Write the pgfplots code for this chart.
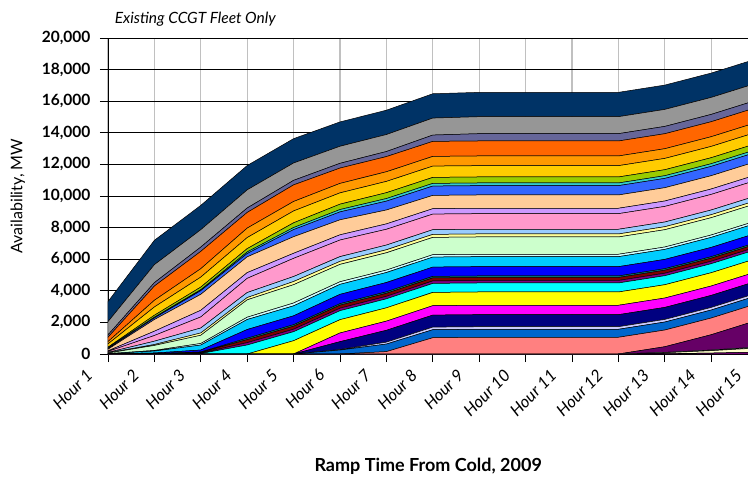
\documentclass[border=0pt]{standalone}
\usepackage{pgfplots}
\usepackage{pgfplotstable}
\pgfplotsset{compat=1.18}
\usepackage{fontspec}
\setmainfont{Lato}
\definecolor{cL1}{HTML}{003366}
\definecolor{cL2}{HTML}{969696}
\definecolor{cL3}{HTML}{666699}
\definecolor{cL4}{HTML}{FF6600}
\definecolor{cL5}{HTML}{FF9900}
\definecolor{cL6}{HTML}{FFCC00}
\definecolor{cL7}{HTML}{99CC00}
\definecolor{cL8}{HTML}{33CCCC}
\definecolor{cL9}{HTML}{3366FF}
\definecolor{cL10}{HTML}{FFCC99}
\definecolor{cL11}{HTML}{CC99FF}
\definecolor{cL12}{HTML}{FF99CC}
\definecolor{cL13}{HTML}{99CCFF}
\definecolor{cL14}{HTML}{FFFF99}
\definecolor{cL15}{HTML}{CCFFCC}
\definecolor{cL16}{HTML}{CCFFFF}
\definecolor{cL17}{HTML}{00CCFF}
\definecolor{cL18}{HTML}{0000FF}
\definecolor{cL19}{HTML}{008080}
\definecolor{cL20}{HTML}{800000}
\definecolor{cL21}{HTML}{800080}
\definecolor{cL22}{HTML}{00FFFF}
\definecolor{cL23}{HTML}{FFFF00}
\definecolor{cL24}{HTML}{FF00FF}
\definecolor{cL25}{HTML}{000080}
\definecolor{cL26}{HTML}{CCCCFF}
\definecolor{cL27}{HTML}{0066CC}
\definecolor{cL28}{HTML}{FF8080}
\definecolor{cN4}{HTML}{660066}
\definecolor{cN3}{HTML}{CCFFFF}
\definecolor{cN2}{HTML}{FFFFCC}
\definecolor{cN1}{HTML}{800080}
\definecolor{vgrid}{HTML}{C0C0C0}

\pgfplotstableread{
h  N1  N2  N3  N4   L28  L27 L26 L25 L24 L23 L22 L21 L20 L19 L18 L17 L16 L15  L14 L13 L12  L11 L10  L9  L8  L7  L6  L5  L4   L3  L2   L1
1  0   0   0   0    0    0   0   0   0   0   0   0   0   0   5   10  5   40   10  30  60   40  100  60  20  50  209 146 278  146 840  1270
2  0   0   0   0    0    0   0   0   0   0   0   5   10  10  40  120 40  316  60  209 360  272 740  100 50  120 525 424 900  215 1140 1540
3  0   0   0   0    0    0   0   0   0   0   30  30  40  30  120 316 100 520  145 316 700  420 1010 230 63  165 633 532 1095 272 1100 1540
4  0   0   0   0    0    0   0   0   0   0   570 150 190 90  550 633 145 1100 145 316 900  360 1000 210 100 210 700 600 990  280 1150 1540
5  0   0   0   0    0    0   0   0   0   842 570 158 190 95  560 633 180 1160 200 316 1150 320 1050 450 130 300 750 600 1050 285 1100 1540
6  0   0   0   0    0    250 30  500 550 842 570 158 190 95  590 633 165 1100 190 300 1050 330 950  500 150 340 715 600 970  300 1080 1540
7  0   0   0   0    150  480 120 750 580 842 570 158 190 95  589 633 155 1095 190 297 1000 340 880  560 165 370 715 610 960  320 1076 1540
8  0   0   0   0    1030 506 165 760 595 842 570 158 190 95  589 633 152 1095 190 297 987  342 842  589 170 380 715 614 950  400 1076 1540
9  0   0   0   0    1057 506 165 760 595 842 570 158 190 95  589 633 152 1095 190 297 987  342 842  589 170 380 715 614 949  462 1076 1540
10 0   0   0   0    1057 506 165 760 595 842 570 158 190 95  589 633 152 1095 190 297 987  342 842  589 170 380 715 614 949  462 1076 1540
11 0   0   0   0    1057 506 165 760 595 842 570 158 190 95  589 633 152 1095 190 297 987  342 842  589 170 380 715 614 949  462 1076 1540
12 0   0   0   0    1057 506 165 760 595 842 570 158 190 95  589 633 152 1095 190 297 987  342 842  589 170 380 715 614 949  462 1076 1540
13 20  60  20  360  1057 506 165 760 595 842 570 158 190 95  589 633 152 1095 190 297 987  342 842  589 170 380 715 614 949  462 1076 1540
14 60  150 40  970  1057 506 165 760 595 842 570 158 190 95  589 633 152 1095 190 297 987  342 842  589 170 380 715 614 949  462 1076 1540
15 120 260 60  1700 1057 506 165 760 595 842 570 158 190 95  589 633 152 1095 190 297 987  342 842  589 170 380 715 614 949  462 1076 1540
}\data

\pgfplotsset{ar/.style={fill=#1, draw=black, line width=0.5pt}}

\begin{document}
\begin{tikzpicture}
\begin{axis}[
  at={(108pt,126pt)}, anchor=south west,
  scale only axis, width=649.6pt, height=316pt,
  xmin=1, xmax=15, ymin=0, ymax=20000,
  axis x line*=bottom, axis y line*=left,
  axis line style={black, line width=0.8pt, -},
  xtick={1,...,15},
  xticklabels={Hour 1,Hour 2,Hour 3,Hour 4,Hour 5,Hour 6,Hour 7,Hour 8,Hour 9,Hour 10,Hour 11,Hour 12,Hour 13,Hour 14,Hour 15},
  ytick={0,2000,...,20000},
  scaled y ticks=false,
  /pgf/number format/assume math mode=true,
  /pgf/number format/1000 sep={,},
  yticklabel style={font=\fontsize{15.5}{17}\selectfont\bfseries, xshift=-6pt},
  xticklabel style={font=\fontsize{16.5}{18}\selectfont\itshape, anchor=east, xshift=-16pt, yshift=-8pt, rotate=45},
  xmajorgrids, ymajorgrids,
  major x grid style={draw=vgrid, line width=1.2pt},
  major y grid style={draw=black, line width=0.8pt},
  tick align=outside, major tick length=8pt, tick style={black, line width=0.8pt},
  stack plots=y, no markers,
  xlabel={Ramp Time From Cold, 2009},
  ylabel={Availability, MW},
  xlabel style={at={(axis description cs:0.493,-0.354)}, anchor=center, font=\fontsize{18}{20}\selectfont\bfseries},
  ylabel style={at={(axis description cs:-0.1387,0.5)}, anchor=center, font=\fontsize{16}{18}\selectfont},
  title={Existing CCGT Fleet Only},
  title style={at={(axis description cs:0.005,1.04)}, anchor=west, font=\fontsize{15.5}{17}\selectfont\itshape},
]
\addplot[ar=cN1] table[x=h,y=N1] {\data} \closedcycle;
\addplot[ar=cN2] table[x=h,y=N2] {\data} \closedcycle;
\addplot[ar=cN3] table[x=h,y=N3] {\data} \closedcycle;
\addplot[ar=cN4] table[x=h,y=N4] {\data} \closedcycle;
\addplot[ar=cL28] table[x=h,y=L28] {\data} \closedcycle;
\addplot[ar=cL27] table[x=h,y=L27] {\data} \closedcycle;
\addplot[ar=cL26] table[x=h,y=L26] {\data} \closedcycle;
\addplot[ar=cL25] table[x=h,y=L25] {\data} \closedcycle;
\addplot[ar=cL24] table[x=h,y=L24] {\data} \closedcycle;
\addplot[ar=cL23] table[x=h,y=L23] {\data} \closedcycle;
\addplot[ar=cL22] table[x=h,y=L22] {\data} \closedcycle;
\addplot[ar=cL21] table[x=h,y=L21] {\data} \closedcycle;
\addplot[ar=cL20] table[x=h,y=L20] {\data} \closedcycle;
\addplot[ar=cL19] table[x=h,y=L19] {\data} \closedcycle;
\addplot[ar=cL18] table[x=h,y=L18] {\data} \closedcycle;
\addplot[ar=cL17] table[x=h,y=L17] {\data} \closedcycle;
\addplot[ar=cL16] table[x=h,y=L16] {\data} \closedcycle;
\addplot[ar=cL15] table[x=h,y=L15] {\data} \closedcycle;
\addplot[ar=cL14] table[x=h,y=L14] {\data} \closedcycle;
\addplot[ar=cL13] table[x=h,y=L13] {\data} \closedcycle;
\addplot[ar=cL12] table[x=h,y=L12] {\data} \closedcycle;
\addplot[ar=cL11] table[x=h,y=L11] {\data} \closedcycle;
\addplot[ar=cL10] table[x=h,y=L10] {\data} \closedcycle;
\addplot[ar=cL9] table[x=h,y=L9] {\data} \closedcycle;
\addplot[ar=cL8] table[x=h,y=L8] {\data} \closedcycle;
\addplot[ar=cL7] table[x=h,y=L7] {\data} \closedcycle;
\addplot[ar=cL6] table[x=h,y=L6] {\data} \closedcycle;
\addplot[ar=cL5] table[x=h,y=L5] {\data} \closedcycle;
\addplot[ar=cL4] table[x=h,y=L4] {\data} \closedcycle;
\addplot[ar=cL3] table[x=h,y=L3] {\data} \closedcycle;
\addplot[ar=cL2] table[x=h,y=L2] {\data} \closedcycle;
\addplot[ar=cL1] table[x=h,y=L1] {\data} \closedcycle;
\end{axis}
\pgfresetboundingbox
\useasboundingbox (0,0) rectangle (748pt,480pt);
\end{tikzpicture}
\end{document}
